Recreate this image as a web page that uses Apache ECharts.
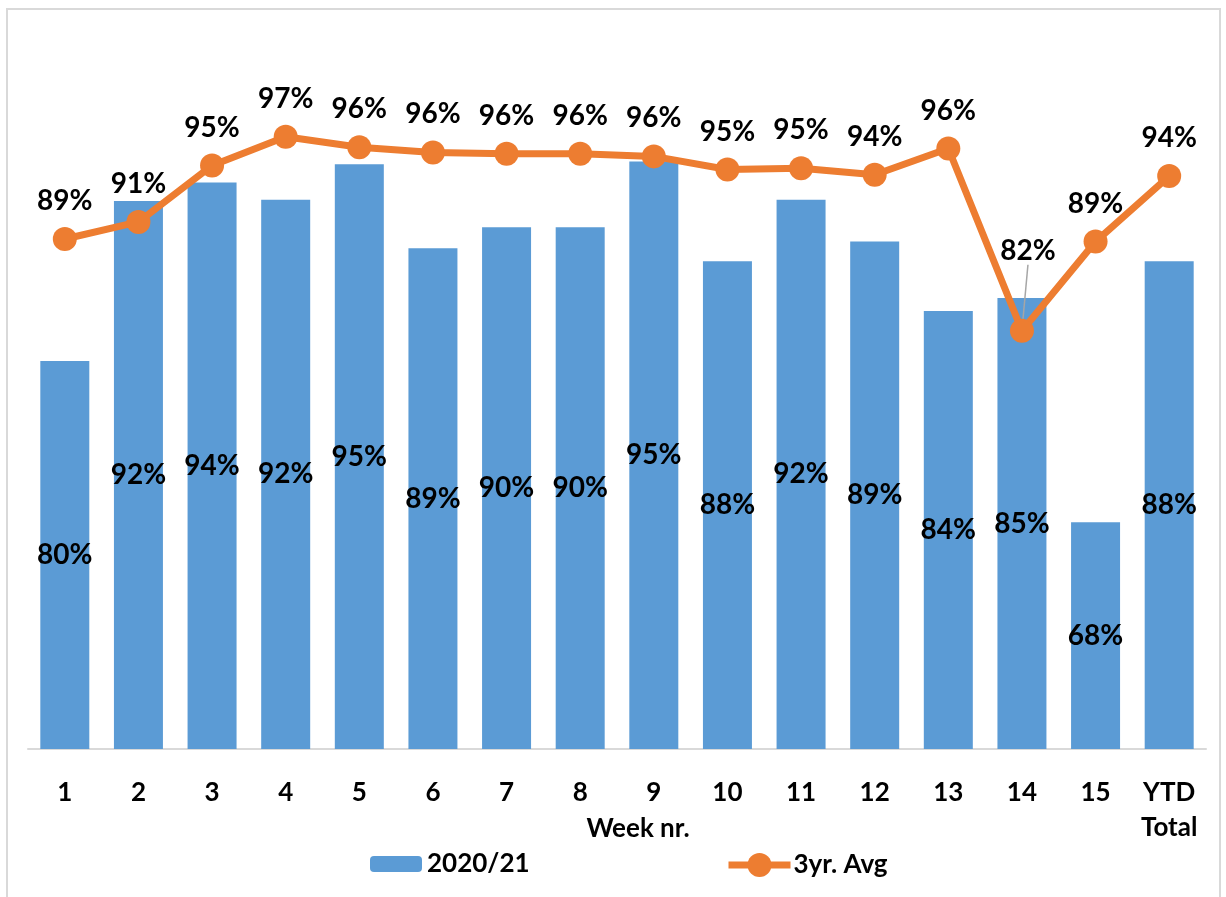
<!DOCTYPE html>
<html>
<head>
<meta charset="utf-8">
<script src="https://cdn.jsdelivr.net/npm/echarts@6/dist/echarts.min.js"></script>
<style>
  html, body { margin: 0; padding: 0; background: #fff; }
  #chart { width: 1226px; height: 897px; }
</style>
</head>
<body>
<div id="chart"></div>
<script>
// week categories
var weeks = ['1', '2', '3', '4', '5', '6', '7', '8', '9', '10', '11', '12', '13', '14', '15', 'YTD\nTotal'];
// 2020/21 (bars), percent
var season2021 = [80.1, 92.3, 93.7, 92.4, 95.1, 88.7, 90.3, 90.3, 95.3, 87.7, 92.4, 89.2, 83.9, 84.9, 67.8, 87.7];
// 3yr. Avg (line), percent
var avg3yr = [89.4, 90.7, 95.0, 97.2, 96.4, 96.0, 95.9, 95.9, 95.7, 94.7, 94.8, 94.3, 96.3, 82.4, 89.2, 94.2];

var FONT = 'Lato';
var chart = echarts.init(document.getElementById('chart'));

var pct = function (p) { return Math.round(p.value) + '%'; };

// week 14 label sits higher with a leader line
var avgData = avg3yr.map(function (v, i) {
    if (i === 13) {
        return { value: v, labelLine: { show: true, lineStyle: { color: '#a6a6a6', width: 1.5 } } };
    }
    return v;
});

var option = {
    backgroundColor: '#fff',
    animation: false,
    textStyle: { fontFamily: FONT },
    graphic: [{
        type: 'rect',
        shape: { x: 7, y: 9, width: 1213, height: 900 },
        style: { fill: 'none', stroke: '#d9d9d9', lineWidth: 2 },
        silent: true
    }],
    title: {
        text: 'Week nr.',
        left: 633,
        top: 811,
        textAlign: 'center',
        textStyle: { fontFamily: FONT, fontSize: 26, fontWeight: 'bold', color: '#000' }
    },
    legend: [{
        data: ['2020/21'],
        left: 365,
        top: 846,
        itemWidth: 52,
        itemHeight: 16,
        textStyle: { fontFamily: FONT, fontSize: 26, fontWeight: 'bold', color: '#000' }
    }, {
        data: ['3yr. Avg'],
        left: 720,
        top: 847,
        itemWidth: 62,
        itemHeight: 30,
        lineStyle: { width: 7 },
        textStyle: { fontFamily: FONT, fontSize: 26, fontWeight: 'bold', color: '#000', padding: [0, 0, 0, -2] }
    }],
    grid: { left: 28, right: 20, top: 100, bottom: 148 },
    xAxis: {
        type: 'category',
        data: weeks,
        axisLine: { lineStyle: { color: '#d9d9d9', width: 2 } },
        axisTick: { show: false },
        axisLabel: {
            margin: 26,
            fontFamily: FONT,
            fontSize: 26,
            fontWeight: 'bold',
            color: '#000',
            lineHeight: 35,
            interval: 0
        }
    },
    yAxis: {
        type: 'value',
        min: 50.5,
        max: 100,
        show: false,
        splitLine: { show: false }
    },
    series: [{
        name: '2020/21',
        type: 'bar',
        data: season2021,
        barWidth: 49,
        itemStyle: { color: '#5b9bd5' },
        label: {
            show: true,
            position: 'inside',
            formatter: pct,
            fontFamily: FONT,
            fontSize: 28,
            fontWeight: 'bold',
            color: '#000'
        }
    }, {
        name: '3yr. Avg',
        type: 'line',
        data: avgData,
        symbol: 'circle',
        symbolSize: 24,
        lineStyle: { color: '#ed7d31', width: 7 },
        itemStyle: { color: '#ed7d31' },
        label: {
            show: true,
            position: 'top',
            distance: 12,
            formatter: pct,
            fontFamily: FONT,
            fontSize: 28,
            fontWeight: 'bold',
            color: '#000'
        },
        labelLine: { show: false },
        labelLayout: function (params) {
            if (params.dataIndex === 13) {
                return { dy: -42, dx: 6 };
            }
            return {};
        }
    }]
};

chart.setOption(option);
window.addEventListener('resize', chart.resize);
</script>
</body>
</html>
